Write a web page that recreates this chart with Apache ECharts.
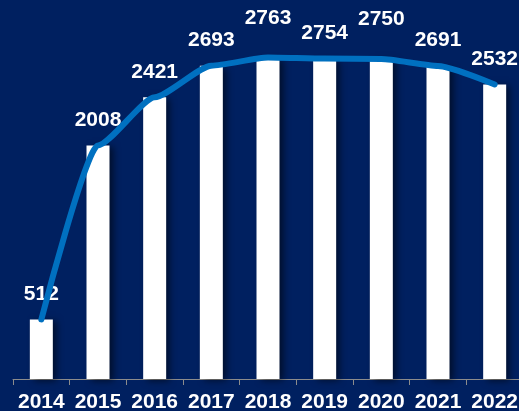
<!DOCTYPE html>
<html>
<head>
<meta charset="utf-8">
<script src="https://cdn.jsdelivr.net/npm/echarts@6/dist/echarts.min.js"></script>
<style>
  html, body {
    margin: 0;
    padding: 0;
    background: #002060;
  }
  #chart {
    width: 519px;
    height: 411px;
  }
</style>
</head>
<body>
<div id="chart"></div>
<script>
const years = ['2014', '2015', '2016', '2017', '2018', '2019', '2020', '2021', '2022']
const counts = [512, 2008, 2421, 2693, 2763, 2754, 2750, 2691, 2532]

// labels that sit higher to stay clear of their neighbours
const raisedLabels = [4, 6]

const chart = echarts.init(document.getElementById('chart'))

const labelFont = {
  color: '#fff',
  fontSize: 21,
  fontWeight: 'bold',
  fontFamily: 'Liberation Sans, Arial, sans-serif'
}

chart.setOption({
  backgroundColor: '#002060',
  animation: false,
  grid: {
    left: 13,
    right: -4,
    top: 30,
    bottom: 32,
    containLabel: false,
    outerBoundsMode: 'none'
  },
  xAxis: {
    type: 'category',
    data: years,
    axisLine: { lineStyle: { color: '#8c8c8c', width: 1 } },
    axisTick: { show: true, length: 6, lineStyle: { color: '#8c8c8c' } },
    axisLabel: { ...labelFont, margin: 13, interval: 0 }
  },
  yAxis: {
    type: 'value',
    min: 0,
    max: 3000,
    show: false,
    splitLine: { show: false }
  },
  series: [
    {
      type: 'bar',
      data: counts.map((v, i) => ({
        value: v,
        label: { distance: raisedLabels.includes(i) ? 29 : 15 }
      })),
      barWidth: 23,
      itemStyle: {
        color: '#fff',
        shadowColor: 'rgba(0, 0, 0, 0.55)',
        shadowBlur: 7,
        shadowOffsetX: 4,
        shadowOffsetY: 2
      },
      label: {
        show: true,
        position: 'top',
        ...labelFont
      },
      z: 2
    },
    {
      type: 'line',
      data: counts,
      smooth: 0.2,
      smoothMonotone: 'x',
      symbol: 'none',
      lineStyle: {
        color: '#0070c0',
        width: 6,
        cap: 'round',
        join: 'round'
      },
      z: 3
    }
  ]
})
</script>
</body>
</html>
